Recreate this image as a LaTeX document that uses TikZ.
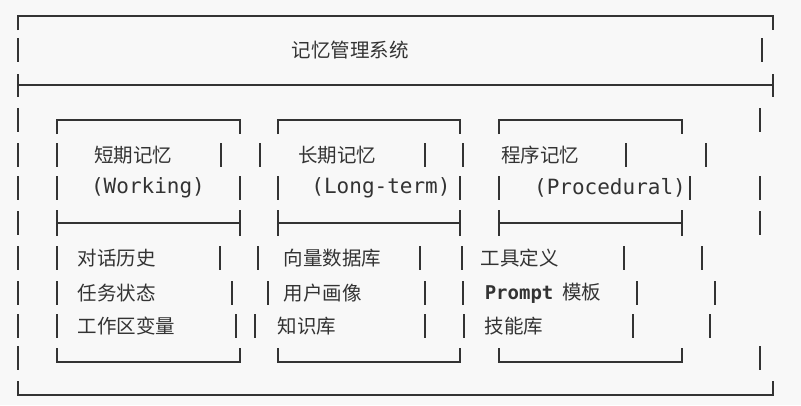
\documentclass[tikz,border=0pt]{standalone}
\usepackage{fontspec}
\newfontfamily\cjk{Noto Sans CJK SC}
\setmonofont{DejaVu Sans Mono}
\definecolor{ink}{HTML}{333333}
\definecolor{bg}{HTML}{F8F8F8}
\begin{document}
\begin{tikzpicture}[x=1pt,y=-1pt,line width=1.6pt,
  txt/.style={text=ink,inner sep=0pt,font=\cjk\fontsize{19.5}{19.5}\selectfont},
  lat/.style={text=ink,inner sep=0pt,font=\ttfamily\fontsize{21}{21}\selectfont},
  ln/.style={draw=ink}]
\fill[bg] (0,0) rectangle (801,405);
\useasboundingbox (0,0) rectangle (801,405);
% outer box
\draw[ln] (18,30) -- (18,16) -- (773,16) -- (773,30);
\draw[ln] (18,85) -- (773,85);
\draw[ln] (18,74) -- (18,97); \draw[ln] (773,74) -- (773,97);
\draw[ln] (18,381) -- (18,395) -- (773,395) -- (773,381);
% inner boxes
\foreach \l/\r in {57/240,278/460,499/682}{
  \draw[ln] (\l,134) -- (\l,120) -- (\r,120) -- (\r,134);
  \draw[ln] (\l,223) -- (\r,223);
  \draw[ln] (\l,210) -- (\l,236); \draw[ln] (\r,210) -- (\r,236);
  \draw[ln] (\l,348) -- (\l,362) -- (\r,362) -- (\r,348);
}
% row bars
\foreach \y/\xs in {50/{18,762},120/{18,760},155/{18,57,221,260,425,463,626,706},
  188/{18,57,240,278,460,499,690,760},223/{18,760},258/{18,57,220,258,420,462,624,702},
  293/{18,57,232,268,425,463,637,715},326/{18,57,236,255,425,464,633,710},358/{18,760}}{
  \foreach \x in \xs { \draw[ln] (\x,\y-12) -- (\x,\y+12); }
}
% texts
\node[txt] (title) at (350,50) {记忆管理系统};
\node[txt] (s1) at (133,155) {短期记忆};
\node[lat] (s2) at (148,188) {(Working)};
\node[txt] (l1) at (337,155) {长期记忆};
\node[lat] (l2) at (381,188) {(Long-term)};
\node[txt] (p1) at (540,155) {程序记忆};
\node[lat] (p2) at (610,188) {(Procedural)};
\node[txt,anchor=west] (a1) at (77,258) {对话历史};
\node[txt,anchor=west] (a2) at (77,293) {任务状态};
\node[txt,anchor=west] (a3) at (77,326) {工作区变量};
\node[txt,anchor=west] (b1) at (283,258) {向量数据库};
\node[txt,anchor=west] (b2) at (283,293) {用户画像};
\node[txt,anchor=west] (b3) at (277,326) {知识库};
\node[txt,anchor=west] (c1) at (480,258) {工具定义};
\node[anchor=west,inner sep=0pt,text=ink] (c2) at (484,293) {{\ttfamily\bfseries\fontsize{19}{19}\selectfont Prompt}\hspace{9pt}{\cjk\fontsize{19.5}{19.5}\selectfont 模板}};
\node[txt,anchor=west] (c3) at (484,326) {技能库};
\end{tikzpicture}
\end{document}
